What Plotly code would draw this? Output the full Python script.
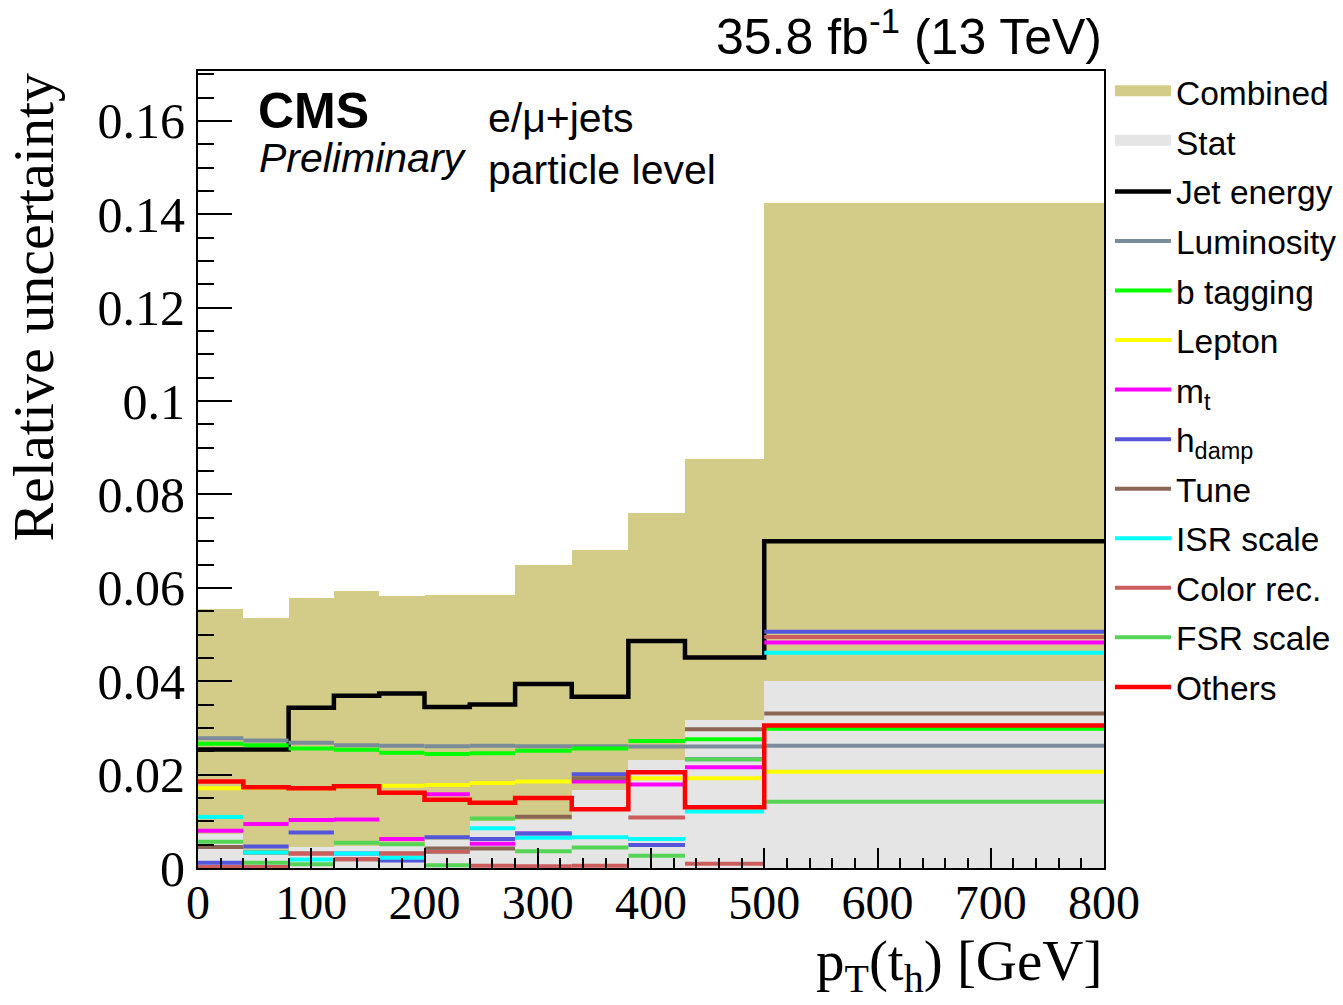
import plotly.graph_objects as go

# ---------------- data ----------------
edges = [0, 40, 80, 120, 160, 200, 240, 280, 330, 380, 430, 500, 800]

combined = [0.0554, 0.0536, 0.0578, 0.0593, 0.0582, 0.0585, 0.0585, 0.0650, 0.0682, 0.0761, 0.0877, 0.1424]
stat     = [0.0073, 0.0028, 0.0045, 0.0047, 0.0048, 0.0060, 0.0100, 0.0103, 0.0167, 0.0231, 0.0318, 0.0401]

jet_energy = [0.0254, 0.0254, 0.0343, 0.0369, 0.0374, 0.0345, 0.0350, 0.0394, 0.0367, 0.0486, 0.0451, 0.0700]
luminosity = [0.0278, 0.0273, 0.0268, 0.0263, 0.0262, 0.0261, 0.0262, 0.0261, 0.0261, 0.0260, 0.0260, 0.0262]
b_tagging  = [0.0266, 0.0263, 0.0256, 0.0253, 0.0247, 0.0244, 0.0246, 0.0251, 0.0256, 0.0272, 0.0276, 0.0298]
lepton     = [0.0171, 0.0172, 0.0171, 0.0174, 0.0176, 0.0178, 0.0182, 0.0185, 0.0186, 0.0192, 0.0192, 0.0206]
m_top      = [0.0080, 0.0094, 0.0103, 0.0104, 0.0062, 0.0158, 0.0052, 0.0074, 0.0185, 0.0179, 0.0216, 0.0483]
h_damp     = [0.0011, 0.0046, 0.0076, 0.0031, 0.0016, 0.0066, 0.0062, 0.0074, 0.0201, 0.0049, 0.0233, 0.0506]
tune       = [0.0045, 0.0033, 0.0031, 0.0019, 0.0031, 0.0042, 0.0042, 0.0110, 0.0192, 0.0062, 0.0297, 0.0331]
isr_scale  = [0.0109, 0.0033, 0.0018, 0.0031, 0.0022, 0.0035, 0.0085, 0.0065, 0.0066, 0.0062, 0.0121, 0.0461]
color_rec  = [0.0002, 0.0002, 0.0031, 0.0019, 0.0031, 0.0035, 0.0005, 0.0004, 0.0005, 0.0108, 0.0009, 0.0495]
fsr_scale  = [0.0056, 0.0011, 0.0008, 0.0054, 0.0051, 0.0006, 0.0106, 0.0036, 0.0044, 0.0026, 0.0233, 0.0142]
others     = [0.0185, 0.0173, 0.0171, 0.0175, 0.0161, 0.0146, 0.0140, 0.0150, 0.0126, 0.0205, 0.0130, 0.0305]

x_tick_vals = [0, 100, 200, 300, 400, 500, 600, 700, 800]
x_tick_text = ["0", "100", "200", "300", "400", "500", "600", "700", "800"]
y_tick_vals = [0, 0.02, 0.04, 0.06, 0.08, 0.10, 0.12, 0.14, 0.16]
y_tick_text = ["0", "0.02", "0.04", "0.06", "0.08", "0.1", "0.12", "0.14", "0.16"]

# ---------------- style ----------------
KHAKI = "rgb(211,204,136)"
STATGRAY = "rgb(229,229,229)"
SANS = "Liberation Sans"
SERIF = "Liberation Serif"

line_series = [
    ("Jet energy", jet_energy, "black", 4.5, True),
    ("Luminosity", luminosity, "rgb(122,139,153)", 4, False),
    ("b tagging", b_tagging, "rgb(0,255,0)", 4, False),
    ("Lepton", lepton, "rgb(255,255,0)", 4, False),
    ("m<sub>t</sub>", m_top, "rgb(255,0,255)", 4, False),
    ("h<sub>damp</sub>", h_damp, "rgb(85,85,220)", 4, False),
    ("Tune", tune, "rgb(140,102,85)", 4, False),
    ("ISR scale", isr_scale, "rgb(0,255,255)", 4, False),
    ("Color rec.", color_rec, "rgb(205,92,92)", 4, False),
    ("FSR scale", fsr_scale, "rgb(85,213,85)", 4, False),
    ("Others", others, "rgb(255,0,0)", 4.5, True),
]

left = edges[:-1]
widths = [edges[i + 1] - edges[i] for i in range(len(edges) - 1)]

fig = go.Figure()

# Combined and Stat filled histograms (legend entry + bars)
for gi, (name, vals, col) in enumerate([("Combined", combined, KHAKI), ("Stat", stat, STATGRAY)]):
    fig.add_trace(go.Scatter(x=[None], y=[None], mode="lines", name=name,
                             line=dict(color=col, width=10), fill="toself", fillcolor=col,
                             legendgroup=f"g{gi}", showlegend=True))
    fig.add_trace(go.Bar(x=left, y=vals, width=widths, offset=0, name=name,
                         marker=dict(color=col, line=dict(width=0)),
                         legendgroup=f"g{gi}", showlegend=False, hoverinfo="skip"))


def segments(vals):
    xs, ys = [], []
    for i, v in enumerate(vals):
        xs += [edges[i], edges[i + 1], None]
        ys += [v, v, None]
    return xs, ys


for k, (name, vals, col, lw, steps) in enumerate(line_series):
    if steps:
        xs = list(edges)
        ys = list(vals) + [vals[-1]]
        shape = "hv"
    else:
        xs, ys = segments(vals)
        shape = "linear"
    fig.add_trace(go.Scatter(x=xs, y=ys, mode="lines", name=name,
                             line=dict(color=col, width=lw, shape=shape),
                             connectgaps=False, legendgroup=f"l{k}", showlegend=True,
                             hoverinfo="skip"))

axis_common = dict(showline=True, linecolor="black", linewidth=2, mirror=True,
                   showgrid=False, zeroline=False, ticks="inside", tickcolor="black",
                   tickwidth=2)

fig.update_xaxes(range=[0, 800], tickmode="array", tickvals=x_tick_vals, ticktext=x_tick_text,
                 ticklen=20, ticklabelstandoff=-9,
                 tickfont=dict(family=SERIF, size=48, color="black"),
                 minor=dict(dtick=20, ticks="inside", ticklen=10, tickwidth=2,
                            tickcolor="black", showgrid=False),
                 **axis_common)
fig.update_yaxes(range=[0, 0.1707], tickmode="array", tickvals=y_tick_vals, ticktext=y_tick_text,
                 ticklen=34, ticklabelstandoff=1,
                 tickfont=dict(family=SERIF, size=50, color="black"),
                 minor=dict(dtick=0.005, ticks="inside", ticklen=16, tickwidth=2,
                            tickcolor="black", showgrid=False),
                 **axis_common)

annotations = [
    dict(text="<b>CMS</b>", x=0.064, y=0.950, xanchor="left", yanchor="middle",
         font=dict(family=SANS, size=50, color="black")),
    dict(text="<i>Preliminary</i>", x=0.065, y=0.891, xanchor="left", yanchor="middle",
         font=dict(family=SANS, size=41, color="black")),
    dict(text="e/μ+jets", x=0.318, y=0.941, xanchor="left", yanchor="middle",
         font=dict(family=SANS, size=41, color="black")),
    dict(text="particle level", x=0.318, y=0.876, xanchor="left", yanchor="middle",
         font=dict(family=SANS, size=41, color="black")),
    dict(text="35.8 fb<sup>-1</sup> (13 TeV)", x=1.0, y=1.048, xanchor="right", yanchor="middle",
         font=dict(family=SANS, size=50, color="black")),
    dict(text="Relative uncertainty", x=-0.182, y=1.0, xanchor="center", yanchor="top",
         textangle=-90, font=dict(family=SERIF, size=58, color="black")),
    dict(text="p<sub>T</sub>(t<sub>h</sub>) [GeV]", x=1.0, y=-0.122, xanchor="right", yanchor="middle",
         font=dict(family=SERIF, size=57, color="black")),
]
for a in annotations:
    a.update(xref="paper", yref="paper", showarrow=False)

fig.update_layout(
    width=1343, height=1005,
    margin=dict(l=198, r=239, t=71, b=137, autoexpand=False),
    paper_bgcolor="white", plot_bgcolor="white",
    barmode="overlay", bargap=0,
    showlegend=True,
    legend=dict(xref="paper", yref="container", x=1.0066, y=0.9363,
                xanchor="left", yanchor="top", maxheight=800,
                font=dict(family=SANS, size=33.5, color="black"),
                traceorder="grouped", tracegroupgap=3, itemwidth=56,
                bgcolor="rgba(0,0,0,0)", borderwidth=0),
    annotations=annotations,
    font=dict(family=SANS, color="black"),
)

fig.write_html("out.html")
